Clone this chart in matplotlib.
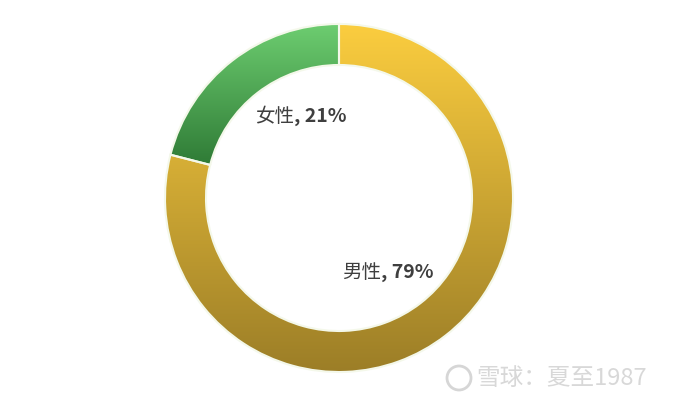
import numpy as np
import matplotlib.pyplot as plt
from matplotlib.colors import LinearSegmentedColormap
from matplotlib.patches import Circle

plt.rcParams['font.family'] = ['Noto Sans CJK SC', 'DejaVu Sans']

# data
labels = ['男性', '女性']
shares = [79, 21]
# gradient colours (top -> bottom) per slice
grad_top = ['#fbcd3f', '#6dcd70']
grad_bottom = ['#9c7e27', '#2f7b36']

fig = plt.figure(figsize=(6.92, 4.05), dpi=100)
ax = fig.add_axes([0, 0, 1, 1])

# ring geometry in pixels (y measured upward)
cx, cy, r_out, r_in = 339, 405 - 198, 174, 133

wedges, _ = ax.pie(shares, startangle=90, counterclock=False, radius=r_out,
                   center=(cx, cy), frame=True,
                   wedgeprops=dict(width=r_out - r_in, edgecolor='#f4f8ea', linewidth=1.5))
ax.set_xlim(0, 692)
ax.set_ylim(0, 405)
ax.set_aspect('equal')
ax.axis('off')

# vertical gradient fill clipped to each wedge, spanning that wedge's height
grad = np.linspace(1, 0, 256).reshape(-1, 1)
for w, top, bot in zip(wedges, grad_top, grad_bottom):
    w.set_facecolor('none')
    bb = w.get_path().get_extents(w.get_transform() - ax.transData)
    cmap = LinearSegmentedColormap.from_list('g', [bot, top])
    im = ax.imshow(grad, cmap=cmap, aspect='auto', origin='upper',
                   extent=[bb.x0, bb.x1, bb.y0, bb.y1],
                   vmin=0, vmax=1, zorder=1)
    im.set_clip_path(w)
    w.set_zorder(2)

ax.set_xlim(0, 692)
ax.set_ylim(0, 405)

# data labels: category in regular weight, ", NN%" in bold
label_pos = [(381, 405 - 272), (294, 405 - 117)]
for lab, v, (x, y) in zip(labels, shares, label_pos):
    ax.text(x, y, lab, ha='right', va='center', fontsize=14,
            color='#3f3f3f', zorder=3)
    ax.text(x, y, f', {v}%', ha='left', va='center', fontsize=14,
            fontweight='bold', color='#3f3f3f', zorder=3)

# watermark
ax.add_patch(Circle((459, 405 - 378), 12, fill=False, edgecolor='#d6d6d6', lw=2, zorder=3))
ax.text(476, 405 - 378, '雪球：夏至1987', ha='left', va='center', fontsize=17,
        color='#d8d8d8', zorder=3)

fig.savefig('out.png', dpi=100, facecolor='white')
